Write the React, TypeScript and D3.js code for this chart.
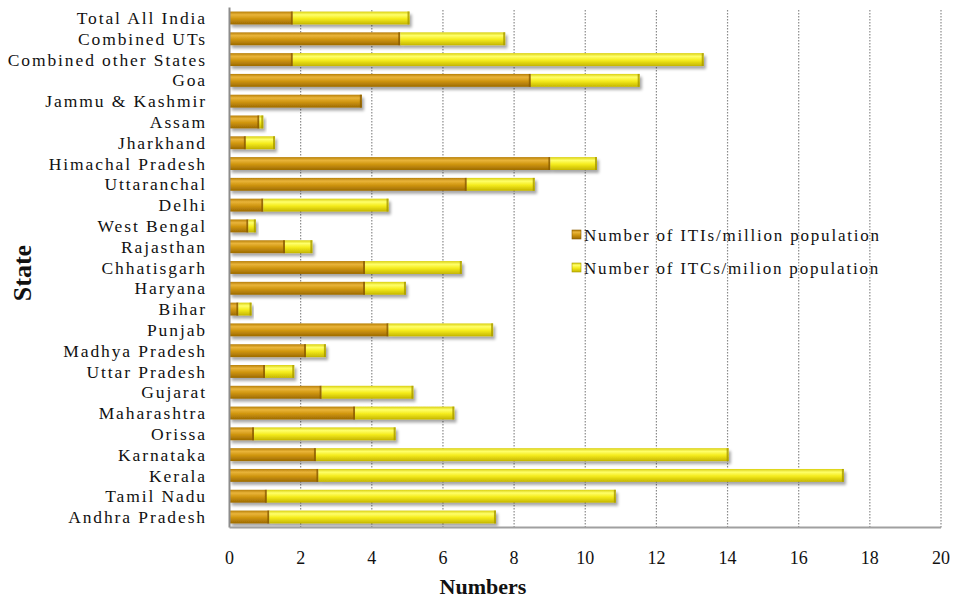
import React from "react";
import * as d3 from "d3";

const states = [
  "Total All India", "Combined UTs", "Combined other States", "Goa", "Jammu & Kashmir",
  "Assam", "Jharkhand", "Himachal Pradesh", "Uttaranchal", "Delhi", "West Bengal",
  "Rajasthan", "Chhatisgarh", "Haryana", "Bihar", "Punjab", "Madhya Pradesh",
  "Uttar Pradesh", "Gujarat", "Maharashtra", "Orissa", "Karnataka", "Kerala",
  "Tamil Nadu", "Andhra Pradesh",
];
const itiValues = [
  1.78, 4.8, 1.78, 8.47, 3.72, 0.84, 0.46, 9.02, 6.67, 0.95, 0.53, 1.56, 3.81, 3.81,
  0.25, 4.47, 2.15, 1.0, 2.59, 3.53, 0.69, 2.43, 2.5, 1.05, 1.12,
];
const itcValues = [
  3.28, 2.95, 11.55, 3.06, 0, 0.11, 0.82, 1.31, 1.91, 3.52, 0.21, 0.77, 2.72, 1.15,
  0.37, 2.94, 0.56, 0.82, 2.58, 2.79, 3.98, 11.6, 14.77, 9.81, 6.37,
];
const seriesNames = ["Number of ITIs/million population", "Number of ITCs/milion population"];
const xTicks = [0, 2, 4, 6, 8, 10, 12, 14, 16, 18, 20];

const W = 956, H = 599;
const left = 229.5, right = 941, top = 7.6, bottom = 527.4;
const serif = "'Liberation Serif', 'Times New Roman', serif";

export default function App() {
  const x = d3.scaleLinear().domain([0, 20]).range([left, right]);
  const y = d3.scaleBand<string>().domain(states).range([top, bottom]).paddingInner(0.38).paddingOuter(0.19);
  const rows = states.map((s, i) => ({ state: s, iti: itiValues[i], itc: itcValues[i] }));
  const stack = d3.stack<any>().keys(["iti", "itc"]);
  const layers = stack(rows);
  const grads = ["gBrown", "gYellow"];
  const caps = ["#8a5d00", "#a89a00"];
  const bh = y.bandwidth();

  return (
    <svg width={W} height={H} style={{ position: "absolute", left: 0, top: 0, background: "#fff" }}>
      <defs>
        <linearGradient id="gBrown" x1="0" y1="0" x2="0" y2="1">
          <stop offset="0" stopColor="#b77f08" />
          <stop offset="0.25" stopColor="#e9b43a" />
          <stop offset="0.55" stopColor="#d0960f" />
          <stop offset="1" stopColor="#9c6a02" />
        </linearGradient>
        <linearGradient id="gYellow" x1="0" y1="0" x2="0" y2="1">
          <stop offset="0" stopColor="#d9cf10" />
          <stop offset="0.25" stopColor="#ffff6a" />
          <stop offset="0.55" stopColor="#f5ec1c" />
          <stop offset="1" stopColor="#c4b500" />
        </linearGradient>
        <filter id="shadow" x="-5%" y="-50%" width="115%" height="250%">
          <feGaussianBlur in="SourceAlpha" stdDeviation="1.6" />
          <feOffset dx="2" dy="3" result="b" />
          <feComponentTransfer><feFuncA type="linear" slope="0.35" /></feComponentTransfer>
          <feMerge><feMergeNode /><feMergeNode in="SourceGraphic" /></feMerge>
        </filter>
      </defs>

      {/* grid */}
      {xTicks.slice(1).map((t) => (
        <line key={"g" + t} x1={x(t)} x2={x(t)} y1={10} y2={bottom} stroke="#8a8a8a"
          strokeWidth={1.2} strokeDasharray="1.5,1.5" />
      ))}

      {/* bars */}
      {rows.map((r, i) => (
        <g key={r.state} filter="url(#shadow)">
          {layers.map((layer, li) => {
            const d = layer[i];
            const w = x(d[1]) - x(d[0]);
            if (w <= 0.2) return null;
            return (
              <g key={li}>
                <rect x={x(d[0])} y={y(r.state)!} width={w} height={bh} fill={`url(#${grads[li]})`} />
                <rect x={x(d[1]) - 2} y={y(r.state)!} width={2} height={bh} fill={caps[li]} opacity={0.8} />
              </g>
            );
          })}
        </g>
      ))}

      {/* axes */}
      <line x1={left} x2={left} y1={top} y2={bottom} stroke="#8c8c8c" strokeWidth={2} />
      <line x1={left} x2={right} y1={bottom} y2={bottom} stroke="#a0a0a0" strokeWidth={2} />

      {/* category labels */}
      {states.map((s) => (
        <text key={"l" + s} x={207} y={y(s)! + bh / 2} dy="0.35em" textAnchor="end"
          fontFamily={serif} fontSize={17.5} letterSpacing={1.9} fill="#111">{s}</text>
      ))}

      {/* tick labels */}
      {xTicks.map((t) => (
        <text key={"t" + t} x={x(t)} y={564} textAnchor="middle" fontFamily={serif}
          fontSize={18} fill="#111">{t}</text>
      ))}

      {/* axis titles */}
      <text x={483} y={594} textAnchor="middle" fontFamily={serif} fontWeight="bold"
        fontSize={22} fill="#111">Numbers</text>
      <text transform="translate(31,273) rotate(-90)" textAnchor="middle" fontFamily={serif}
        fontWeight="bold" fontSize={26} fill="#111">State</text>

      {/* legend */}
      {seriesNames.map((n, i) => (
        <g key={n} transform={`translate(572, ${235 + i * 33})`}>
          <rect x={0} y={-5} width={9} height={9} fill={`url(#${grads[i]})`} stroke={caps[i]} strokeWidth={0.6} />
          <text x={12} y={0} dy="0.35em" fontFamily={serif} fontSize={17} letterSpacing={1.8} fill="#111">{n}</text>
        </g>
      ))}
    </svg>
  );
}
